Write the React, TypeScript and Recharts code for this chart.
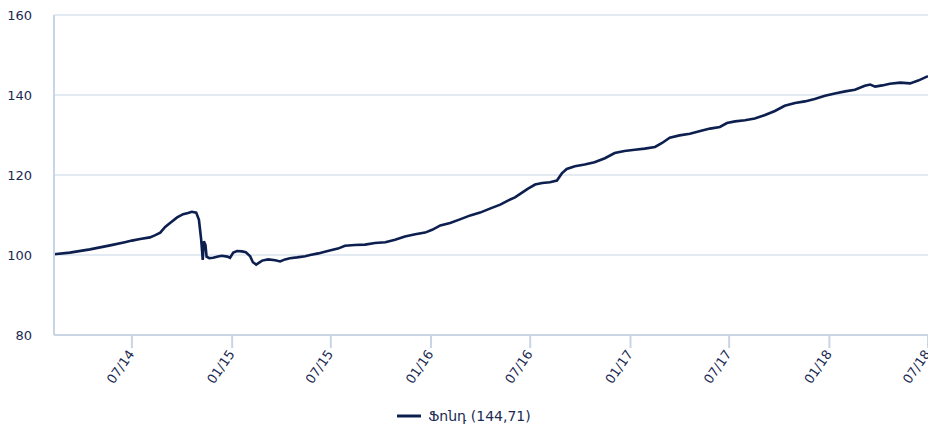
import React from "react";
import { LineChart, Line, XAxis, YAxis, CartesianGrid, Legend } from "recharts";

const dates = [
  "2014-02-08", "2014-03-09", "2014-04-15", "2014-05-22", "2014-06-18", "2014-07-01", "2014-07-16",
  "2014-08-03", "2014-08-12", "2014-08-22", "2014-08-31", "2014-09-09", "2014-09-22", "2014-10-03",
  "2014-10-12", "2014-10-19", "2014-10-27", "2014-11-01", "2014-11-05", "2014-11-08", "2014-11-10",
  "2014-11-13", "2014-11-15", "2014-11-20", "2014-11-27", "2014-12-06", "2014-12-13", "2014-12-23",
  "2014-12-28", "2015-01-03", "2015-01-10", "2015-01-19", "2015-01-26", "2015-02-03", "2015-02-08",
  "2015-02-14", "2015-02-25", "2015-03-08", "2015-03-21", "2015-03-30", "2015-04-08", "2015-04-17",
  "2015-04-30", "2015-05-15", "2015-05-24", "2015-06-08", "2015-06-20", "2015-06-29", "2015-07-14",
  "2015-07-27", "2015-08-14", "2015-09-02", "2015-09-20", "2015-10-09", "2015-10-27", "2015-11-14",
  "2015-12-03", "2015-12-21", "2016-01-03", "2016-01-18", "2016-02-05", "2016-02-23", "2016-03-13",
  "2016-03-31", "2016-04-18", "2016-05-07", "2016-05-21", "2016-06-03", "2016-06-16", "2016-06-27",
  "2016-07-10", "2016-07-23", "2016-08-06", "2016-08-19", "2016-08-28", "2016-09-06", "2016-09-21",
  "2016-10-09", "2016-10-27", "2016-11-15", "2016-12-03", "2016-12-21", "2017-01-09", "2017-01-27",
  "2017-02-15", "2017-02-28", "2017-03-14", "2017-04-01", "2017-04-20", "2017-05-09", "2017-05-27",
  "2017-06-14", "2017-06-27", "2017-07-12", "2017-07-30", "2017-08-17", "2017-09-05", "2017-09-23",
  "2017-10-11", "2017-10-30", "2017-11-17", "2017-12-05", "2017-12-24", "2018-01-11", "2018-01-30",
  "2018-02-17", "2018-03-07", "2018-03-17", "2018-03-26", "2018-04-08", "2018-04-22", "2018-05-11",
  "2018-05-29", "2018-06-13", "2018-07-01",
];

const values = [
  100.2, 100.6, 101.4, 102.4, 103.2, 103.6, 104.0,
  104.4, 104.9, 105.6, 107.0, 108.0, 109.4, 110.2,
  110.5, 110.8, 110.6, 108.8, 104.0, 98.8, 103.4,
  102.5, 99.6, 99.2, 99.3, 99.6, 99.8, 99.6,
  99.3, 100.6, 101.0, 100.9, 100.7, 99.7, 98.2,
  97.6, 98.6, 98.9, 98.7, 98.4, 98.9, 99.2,
  99.4, 99.7, 100.0, 100.4, 100.8, 101.1, 101.6,
  102.3, 102.5, 102.6, 103.0, 103.2, 103.8, 104.6,
  105.2, 105.6, 106.3, 107.4, 108.0, 108.9, 109.9,
  110.6, 111.6, 112.6, 113.6, 114.4, 115.6, 116.6,
  117.6, 118.0, 118.2, 118.6, 120.4, 121.5, 122.2,
  122.6, 123.2, 124.2, 125.5, 126.0, 126.3, 126.6,
  127.0, 128.0, 129.3, 129.9, 130.3, 131.0, 131.6,
  132.0, 133.0, 133.4, 133.7, 134.1, 135.0, 136.0,
  137.3, 138.0, 138.4, 139.0, 139.8, 140.4, 140.9,
  141.3, 142.3, 142.6, 142.1, 142.4, 142.8, 143.1,
  142.9, 143.6, 144.71,
];

const tickDates = [
  "2014-07-01", "2015-01-01", "2015-07-01", "2016-01-01", "2016-07-01",
  "2017-01-01", "2017-07-01", "2018-01-01", "2018-07-01",
];
const tickLabels = ["07/14", "01/15", "07/15", "01/16", "07/16", "01/17", "07/17", "01/18", "07/18"];
const yTicks = [80, 100, 120, 140, 160];
const seriesName = "Ֆոնդ (144,71)";

const dayNum = (s: string) => {
  const [y, m, d] = s.split("-").map(Number);
  return Date.UTC(y, m - 1, d) / 86400000;
};

const data = dates.map((d, i) => ({ t: dayNum(d), v: values[i] }));
const tickNums = tickDates.map(dayNum);
const labelByNum = new Map<number, string>(tickNums.map((n, i) => [n, tickLabels[i]]));

const TEXT = "#1b2a52";
const GRID = "#c9d5e5";
const LINE = "#0c1f4f";
const FONT = "DejaVu Sans";

const XTick = (props: any) => {
  const { x, y, payload } = props;
  return (
    <g transform={`translate(${x + 3},${y + 4})`}>
      <text textAnchor="end" transform="rotate(-55)" fill={TEXT} fontSize={13} fontFamily={FONT}>
        {labelByNum.get(payload.value)}
      </text>
    </g>
  );
};

const LegendContent = () => (
  <div
    style={{
      display: "flex",
      justifyContent: "center",
      alignItems: "center",
      fontFamily: FONT,
      fontSize: 14,
      color: TEXT,
      height: 24,
    }}
  >
    <svg width={24} height={6} style={{ marginRight: 7 }}>
      <line x1={0} y1={3} x2={24} y2={3} stroke={LINE} strokeWidth={3} />
    </svg>
    <span>{seriesName}</span>
  </div>
);

export default function App() {
  return (
    <div style={{ position: "absolute", left: 0, top: 0, width: 928, height: 428, background: "#fff" }}>
      <LineChart width={928} height={428} data={data} margin={{ top: 15, right: 0, bottom: 0, left: 0 }}>
        <CartesianGrid horizontal vertical={false} stroke={GRID} strokeWidth={1} />
        <XAxis
          dataKey="t"
          type="number"
          domain={[dayNum("2014-02-08"), dayNum("2018-07-01")]}
          allowDataOverflow
          ticks={tickNums}
          interval={0}
          tick={<XTick />}
          tickSize={13}
          height={69}
          axisLine={{ stroke: GRID, strokeWidth: 2 }}
          tickLine={{ stroke: GRID, strokeWidth: 2 }}
        />
        <YAxis
          domain={[80, 160]}
          ticks={yTicks}
          interval={0}
          width={54}
          tickLine={false}
          tickSize={6}
          tickMargin={16}
          axisLine={{ stroke: GRID, strokeWidth: 2 }}
          tick={{ fill: TEXT, fontSize: 13, fontFamily: FONT }}
        />
        <Legend verticalAlign="bottom" height={24} content={<LegendContent />} />
        <Line
          dataKey="v"
          name={seriesName}
          type="linear"
          stroke={LINE}
          strokeWidth={2.6}
          dot={false}
          isAnimationActive={false}
        />
      </LineChart>
    </div>
  );
}
